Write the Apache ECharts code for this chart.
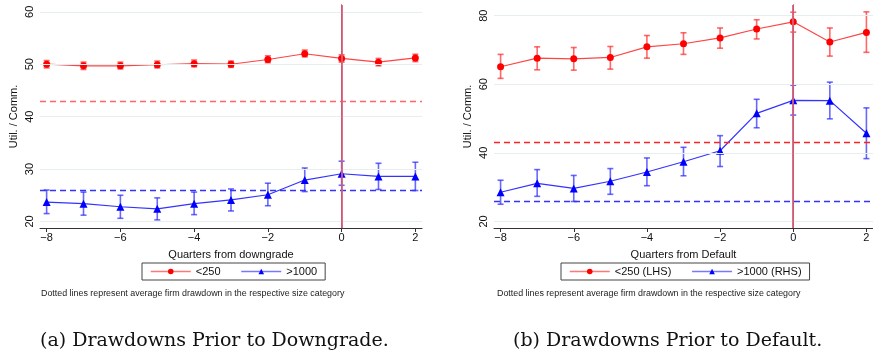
<!DOCTYPE html>
<html><head><meta charset="utf-8">
<script src="https://cdn.jsdelivr.net/npm/echarts@6/dist/echarts.min.js"></script>
<style>html,body{margin:0;padding:0;background:#fff}#c{width:873px;height:358px}</style>
</head><body><div id="c"></div>
<script>
const quarters = [-8,-7,-6,-5,-4,-3,-2,-1,0,1,2];
const xTicks = [-8,-6,-4,-2,0,2];
const yTicksA = [20,30,40,50,60];
const yTicksB = [20,40,60,80];
// Panel (a): downgrade
const aSmall   = [50.0,49.7,49.7,49.9,50.1,50.0,50.9,52.0,51.1,50.4,51.2];
const aSmallLo = [49.3,49.0,49.1,49.3,49.5,49.4,50.3,51.4,50.4,49.7,50.5];
const aSmallHi = [50.7,50.4,50.4,50.6,50.8,50.6,51.6,52.7,51.8,51.1,51.9];
const aLarge   = [23.7,23.4,22.8,22.4,23.4,24.1,25.1,27.9,29.1,28.6,28.6];
const aLargeLo = [21.5,21.2,20.6,20.3,21.3,22.0,23.0,25.7,26.9,26.1,25.9];
const aLargeHi = [26.0,25.6,25.0,24.5,25.6,26.2,27.3,30.2,31.5,31.1,31.3];
const aAvgSmall = 43.0, aAvgLarge = 25.9;
// Panel (b): default
const bSmall   = [65.1,67.6,67.4,67.8,70.9,71.8,73.5,76.1,78.2,72.3,75.1];
const bSmallLo = [61.7,64.2,64.1,64.4,67.6,68.7,70.5,73.2,75.2,68.2,69.3];
const bSmallHi = [68.7,70.9,70.7,71.0,74.2,75.0,76.4,78.8,81.0,76.4,81.1];
const bLarge   = [28.5,31.1,29.6,31.7,34.4,37.4,40.6,51.5,55.3,55.2,45.7];
const bLargeLo = [25.0,27.3,25.8,27.9,30.4,33.3,36.0,47.3,51.0,49.9,38.3];
const bLargeHi = [32.0,35.1,33.4,35.4,38.5,41.6,45.0,55.6,59.7,60.6,53.1];
const bAvgSmall = 43.0, bAvgLarge = 25.9;
const namesA = ['<250','>1000'];
const namesB = ['<250 (LHS)','>1000 (RHS)'];
const xTitleA = 'Quarters from downgrade', xTitleB = 'Quarters from Default';
const yTitle = 'Util. / Comm.';
const note = 'Dotted lines represent average firm drawdown in the respective size category';
const capA = '(a) Drawdowns Prior to Downgrade.', capB = '(b) Drawdowns Prior to Default.';

const RED = '#ff0000', BLUE = '#0000ff';
const font = 'Liberation Sans';
function minus(v){ return String(v).replace('-', '\u2212'); }

function xAxis(gi, name){
  return {type:'value', gridIndex:gi, min:-8.18, max:2.18, name:name, nameLocation:'middle', nameGap:21,
    nameTextStyle:{fontFamily:font, fontSize:11, color:'#111'},
    axisLine:{show:true, onZero:false, lineStyle:{color:'#333', width:1}},
    axisTick:{show:true, length:4, customValues:xTicks, lineStyle:{color:'#333'}},
    axisLabel:{customValues:xTicks, formatter:minus, fontFamily:font, fontSize:11, color:'#111', margin:4},
    splitLine:{show:false}};
}
function yAxis(gi, min, max, ticks){
  return {type:'value', gridIndex:gi, min:min, max:max, name:yTitle, nameLocation:'middle', nameGap:21,
    nameTextStyle:{fontFamily:font, fontSize:11, color:'#111'},
    axisLine:{show:true, lineStyle:{color:'#333', width:1}},
    axisTick:{show:true, length:4, customValues:ticks, lineStyle:{color:'#333'}},
    axisLabel:{customValues:ticks, rotate:90, fontFamily:font, fontSize:11, color:'#111', margin:5},
    splitLine:{show:false}};
}
function pairs(ys){ return quarters.map((q,i)=>[q, ys[i]]); }
function bars(lo, hi){ return quarters.map((q,i)=>[q, lo[i], hi[i]]); }
function errSeries(gi, lo, hi, color){
  return {type:'custom', name:'err'+gi+color, xAxisIndex:gi, yAxisIndex:gi, z:3,
    data:bars(lo,hi), encode:{x:0, y:[1,2]},
    renderItem:function(params, api){
      const x = api.value(0), a = api.coord([x, api.value(1)]), b = api.coord([x, api.value(2)]);
      const w = 3, st = {stroke:color, lineWidth:1.6};
      return {type:'group', children:[
        {type:'line', shape:{x1:a[0], y1:a[1], x2:b[0], y2:b[1]}, style:st},
        {type:'line', shape:{x1:a[0]-w, y1:a[1], x2:a[0]+w, y2:a[1]}, style:st},
        {type:'line', shape:{x1:b[0]-w, y1:b[1], x2:b[0]+w, y2:b[1]}, style:st}]};
    }};
}
function lineSeries(gi, name, ys, color, lineColor, symbol, size){
  return {type:'line', name:name, xAxisIndex:gi, yAxisIndex:gi, data:pairs(ys), z:4,
    symbol:symbol, symbolSize:size, showSymbol:true,
    itemStyle:{color:color}, lineStyle:{color:lineColor, width:1.2}, emphasis:{disabled:true}};
}
function refLines(gi, ticks, avgS, avgL, redDash){
  const grid = ticks.map(t=>({yAxis:t, lineStyle:{color:'#e6eef0', width:1, type:'solid'}}));
  return {type:'line', name:'ref'+gi, xAxisIndex:gi, yAxisIndex:gi, data:[], z:1,
    markLine:{silent:true, symbol:'none', label:{show:false}, animation:false,
      data: grid.concat([
        {yAxis:avgS, lineStyle:{color:redDash, width:1.4, type:[6,4]}},
        {yAxis:avgL, lineStyle:{color:'#3333ff', width:1.3, type:[6,4]}},
        {xAxis:0, lineStyle:{color:'#d8607a', width:1.8, type:'solid'}}])}};
}
function legend(names, left){
  return {data:[{name:names[0], lineStyle:{color:'#ff7777', width:1.5}},
                {name:names[1], lineStyle:{color:'#7777ff', width:1.5}}],
    left:left, top:263, orient:'horizontal', borderColor:'#444', borderWidth:1,
    padding:[3,8], itemGap:20, itemWidth:40, itemHeight:7, selectedMode:false,
    textStyle:{fontFamily:font, fontSize:11, color:'#111'}};
}
const chart = echarts.init(document.getElementById('c'), null, {renderer:'canvas'});
chart.setOption({
  animation:false,
  grid:[{left:40, top:5, width:382, height:223},
        {left:494, top:5, width:382, height:223}],
  xAxis:[xAxis(0, xTitleA), xAxis(1, xTitleB)],
  yAxis:[yAxis(0, 18.75, 61.3, yTicksA), yAxis(1, 18.07, 83.1, yTicksB)],
  legend:[legend(namesA, 142), legend(namesB, 561)],
  series:[
    refLines(0, yTicksA, aAvgSmall, aAvgLarge, '#ff6666'),
    refLines(1, yTicksB, bAvgSmall, bAvgLarge, '#ff2222'),
    errSeries(0, aSmallLo, aSmallHi, 'rgba(255,40,40,0.7)'),
    errSeries(0, aLargeLo, aLargeHi, 'rgba(40,40,255,0.7)'),
    errSeries(1, bSmallLo, bSmallHi, 'rgba(255,40,40,0.7)'),
    errSeries(1, bLargeLo, bLargeHi, 'rgba(40,40,255,0.7)'),
    lineSeries(0, namesA[0], aSmall, RED, '#ff4444', 'circle', 7),
    lineSeries(0, namesA[1], aLarge, BLUE, '#3333ff', 'triangle', 8),
    lineSeries(1, namesB[0], bSmall, RED, '#ff4444', 'circle', 7),
    lineSeries(1, namesB[1], bLarge, BLUE, '#3333ff', 'triangle', 8)
  ],
  graphic:[
    {type:'text', left:41, top:289, style:{text:note, font:'8.9px "Liberation Sans"', fill:'#222'}},
    {type:'text', left:497, top:289, style:{text:note, font:'8.9px "Liberation Sans"', fill:'#222'}},
    {type:'text', left:40, top:332, style:{text:capA, font:'19px "DejaVu Serif"', fill:'#111'}},
    {type:'text', left:513, top:332, style:{text:capB, font:'19px "DejaVu Serif"', fill:'#111'}}
  ]
});
</script></body></html>
